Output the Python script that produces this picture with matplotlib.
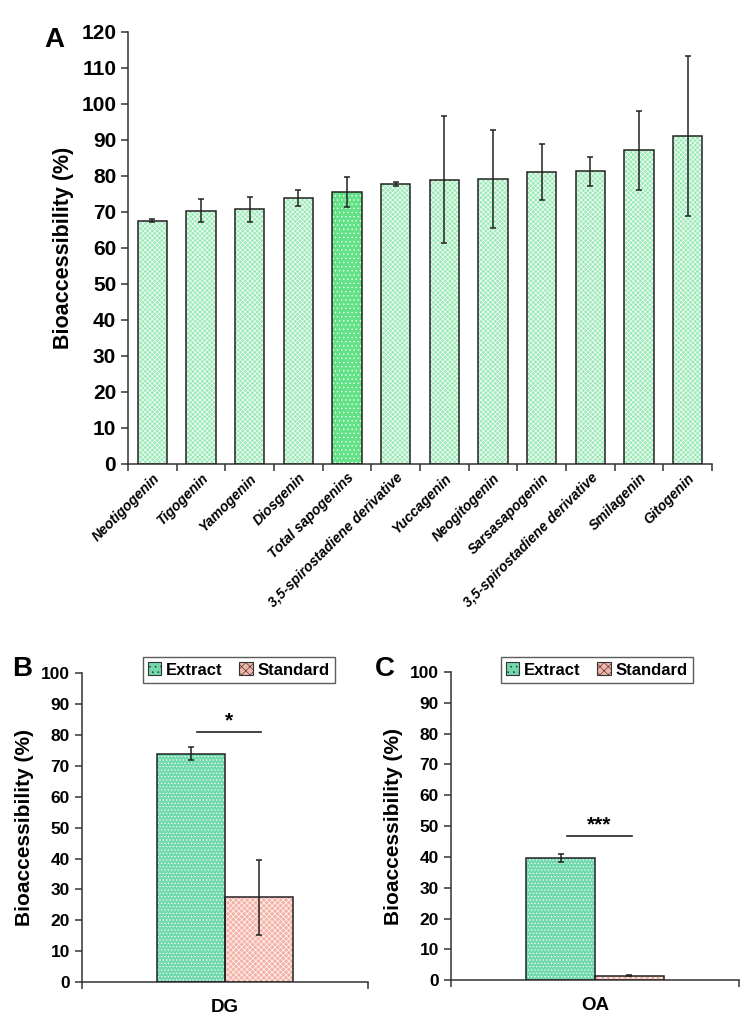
import matplotlib
matplotlib.use('Agg')
import matplotlib.pyplot as plt
from matplotlib.patches import Patch
import numpy as np

# Panel A: sapogenin bioaccessibility
labels_a = ['Neotigogenin', 'Tigogenin', 'Yamogenin', 'Diosgenin', 'Total sapogenins',
            '3,5-spirostadiene derivative', 'Yuccagenin', 'Neogitogenin', 'Sarsasapogenin',
            '3,5-spirostadiene derivative', 'Smilagenin', 'Gitogenin']
values_a = [67.6, 70.4, 70.7, 73.9, 75.6, 77.8, 79.0, 79.1, 81.1, 81.3, 87.1, 91.0]
errors_a = [0.4, 3.3, 3.4, 2.1, 4.1, 0.5, 17.6, 13.6, 7.8, 4.0, 11.0, 22.2]
highlight_a = 'Total sapogenins'

# Panels B and C: extract vs standard
series_bc = ['Extract', 'Standard']
compound_b = 'DG'
values_b = [73.9, 27.4]
errors_b = [2.1, 12.2]
sig_b = '*'
sig_b_level = 81.1
compound_c = 'OA'
values_c = [39.6, 1.5]
errors_c = [1.4, 0.2]
sig_c = '***'
sig_c_level = 46.8

plt.rcParams['font.family'] = ['Liberation Sans', 'DejaVu Sans']
plt.rcParams['font.weight'] = 'bold'
plt.rcParams['axes.labelweight'] = 'bold'

AX_COL = '#333333'
C_LIGHT = '#9ceab7'
C_TOTAL = '#62e187'
C_EXTRACT = '#72d9ac'
C_STANDARD = '#f5b3a8'
HATCH = {'light': 'xxxxxxx', 'total': '....', 'extract': '.....', 'standard': 'xxxxxx'}


def hatched_bars(ax, x, h, width, face, hatch, err=None):
    ax.bar(x, h, width, color=face, edgecolor='none', zorder=2)
    ax.bar(x, h, width, facecolor='none', edgecolor='white', hatch=hatch,
           linewidth=0, zorder=3)
    ax.bar(x, h, width, facecolor='none', edgecolor='#222222', linewidth=1.1, zorder=4)
    if err is not None:
        ax.errorbar(x, h, yerr=err, fmt='none', ecolor='#222222', elinewidth=1.1,
                    capsize=2.5, capthick=1.1, zorder=5)


def style_axes(ax):
    for s in ['top', 'right']:
        ax.spines[s].set_visible(False)
    for s in ['left', 'bottom']:
        ax.spines[s].set_color(AX_COL)
        ax.spines[s].set_linewidth(1.1)
    ax.tick_params(axis='y', direction='out', length=5, width=1.1, color=AX_COL)
    ax.tick_params(axis='x', which='major', length=0)
    ax.tick_params(axis='x', which='minor', direction='out', length=5, width=1.1, color=AX_COL)


plt.rcParams['hatch.linewidth'] = 0.45
fig = plt.figure(figsize=(7.48, 10.22), dpi=100)

# ---- Panel A ----
axA = fig.add_axes([0.1711, 0.546, 0.7808, 0.4227])
xa = np.arange(len(labels_a))
for i, lab in enumerate(labels_a):
    if lab == highlight_a:
        hatched_bars(axA, xa[i], values_a[i], 0.6, C_TOTAL, HATCH['total'], errors_a[i])
    else:
        hatched_bars(axA, xa[i], values_a[i], 0.6, C_LIGHT, HATCH['light'], errors_a[i])
axA.set_xlim(-0.5, len(labels_a) - 0.5)
axA.set_ylim(0, 120)
axA.set_yticks(np.arange(0, 121, 10))
axA.set_xticks(xa)
axA.set_xticks(np.arange(-0.5, len(labels_a)), minor=True)
axA.set_xticklabels(labels_a, rotation=45, ha='right', rotation_mode='anchor',
                    fontsize=10, fontstyle='italic')
style_axes(axA)
axA.tick_params(axis='y', labelsize=15)
axA.tick_params(axis='x', which='major', pad=5)
axA.set_ylabel('Bioaccessibility (%)', fontsize=15.5, labelpad=5)
fig.text(0.072, 0.961, 'A', fontsize=20, fontweight='bold', ha='center', va='center')


# ---- Panels B and C ----
def panel(rect, compound, vals, errs, sig, sig_level, letter, letter_x, leg_x):
    ax = fig.add_axes(rect)
    w = 0.238
    hatched_bars(ax, -w / 2, vals[0], w, C_EXTRACT, HATCH['extract'], errs[0])
    hatched_bars(ax, w / 2, vals[1], w, C_STANDARD, HATCH['standard'], errs[1])
    ax.set_xlim(-0.5, 0.5)
    ax.set_ylim(0, 100)
    ax.set_yticks(np.arange(0, 101, 10))
    ax.set_xticks([0])
    ax.set_xticklabels([compound], fontsize=13.5)
    ax.set_xticks([-0.5, 0.5], minor=True)
    style_axes(ax)
    ax.tick_params(axis='y', labelsize=12.5)
    ax.tick_params(axis='x', which='major', pad=12)
    ax.set_ylabel('Bioaccessibility (%)', fontsize=15, labelpad=5)
    ax.plot([-0.096, 0.127], [sig_level, sig_level], color='#222222', lw=1.2, zorder=6)
    ax.text(0.015, sig_level + 0.5, sig, ha='center', va='bottom', fontsize=15,
            fontweight='bold')
    handles = [Patch(facecolor=C_EXTRACT, edgecolor='#333333', hatch='...', linewidth=0.8),
               Patch(facecolor=C_STANDARD, edgecolor='#333333', hatch='xxxx', linewidth=0.8)]
    leg = fig.legend(handles, series_bc, loc='center', bbox_to_anchor=(leg_x, 0.3445),
                     ncol=2, fontsize=12, frameon=True, fancybox=False,
                     handlelength=0.8, handleheight=0.8, handletextpad=0.3,
                     columnspacing=1.0, borderpad=0.3)
    leg.get_frame().set_edgecolor('#333333')
    leg.get_frame().set_linewidth(1.0)
    fig.text(letter_x, 0.3454, letter, fontsize=20, fontweight='bold', ha='center',
             va='center')
    return ax


panel([0.1092, 0.0391, 0.3828, 0.302], compound_b, values_b, errors_b, sig_b,
      sig_b_level, 'B', 0.029, 0.3194)
panel([0.6025, 0.0408, 0.3858, 0.3018], compound_c, values_c, errors_c, sig_c,
      sig_c_level, 'C', 0.515, 0.798)

fig.savefig('out.png', dpi=100)
